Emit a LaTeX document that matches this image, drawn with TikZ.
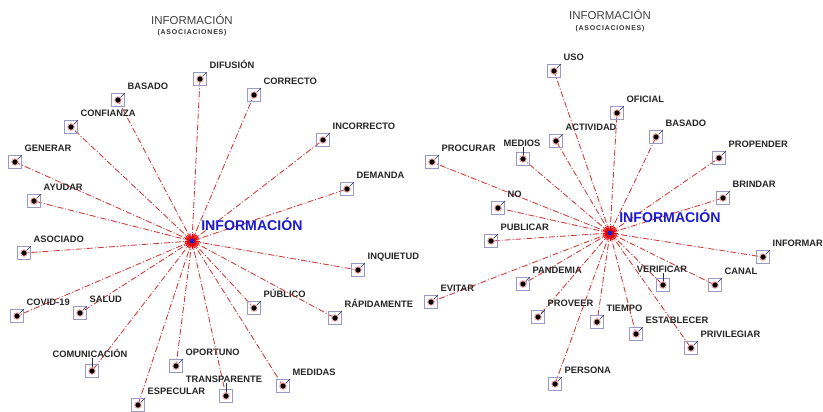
\documentclass[tikz,border=0pt]{standalone}
\usepackage{fontspec}
\setmainfont{Liberation Sans}
\newfontfamily\spacedfont[LetterSpace=12]{Liberation Sans}

\definecolor{linkred}{HTML}{D03A3A}
\definecolor{boxblue}{HTML}{9A9AC8}
\definecolor{hubblue}{HTML}{1B1BD0}
\definecolor{halo}{HTML}{F2A8A8}
\definecolor{tickblue}{HTML}{25305A}

\tikzset{
  word/.style={font=\bfseries\fontsize{7}{8}\selectfont, text=black!85, inner sep=0pt, anchor=base west},
  wordbox/.style={draw=boxblue, line width=0.6pt, minimum size=9.75pt, inner sep=0pt},
  link/.style={linkred, line width=0.65pt, dash pattern=on 4.5pt off 1.5pt on 0.8pt off 1.5pt},
  tick/.style={tickblue, line width=0.4pt},
  burst/.style={red!90!black, line width=0.55pt},
  hub/.style={circle, fill=hubblue, inner sep=0pt, minimum size=3.6pt},
  hubword/.style={font=\bfseries\fontsize{10.6}{12}\selectfont, text=hubblue, inner sep=0pt, anchor=west},
  title/.style={font=\fontsize{8.6}{10}\selectfont, text=black!75, inner sep=0pt},
  subtitle/.style={font=\spacedfont\bfseries\fontsize{5.2}{6}\selectfont, text=black!80, inner sep=0pt}
}

\begin{document}
\begin{tikzpicture}[x=0.75pt,y=-0.75pt]
\useasboundingbox (0,0) rectangle (823,411);

% titles
\node[title] (t1) at (192,20) {INFORMACIÓN};
\node[subtitle] (s1) at (192,33) {(ASOCIACIONES)};
\node[title] (t2) at (610,15) {INFORMACIÓN};
\node[subtitle] (s2) at (610,29) {(ASOCIACIONES)};

% hubs
\node[hub] (h1) at (192,241) {};
\node[hub] (h2) at (610,233) {};

% left star
\foreach \x/\y/\t [count=\i] in {200/79/DIFUSIÓN, 254/95/CORRECTO, 118/100/BASADO,
    71/127/CONFIANZA, 323/140/INCORRECTO, 15/162/GENERAR, 347/189/DEMANDA,
    34/201/AYUDAR, 24/253/ASOCIADO, 358/270/INQUIETUD, 17/316/COVID-19,
    80/313/SALUD, 254/308/PÚBLICO, 335/318/RÁPIDAMENTE, 176/366/OPORTUNO,
    283/386/MEDIDAS, 138/405/ESPECULAR} {
  \draw[link] (h1.center) -- (\x,\y);
  \node[wordbox] (a\i) at (\x,\y) {};
  \node[word] (la\i) at ([shift={(2.5,-4)}]a\i.north east) {\t};
  \draw[tick] (a\i.center) -- (a\i.north east);
  \fill[halo] (a\i.center) circle (3.8);
  \fill (a\i.center) circle (2.6);
}
\foreach \x/\y/\t/\d [count=\i] in {92/371/COMUNICACIÓN/-2, 226/396/TRANSPARENTE/-2} {
  \draw[link] (h1.center) -- (\x,\y);
  \node[wordbox] (av\i) at (\x,\y) {};
  \node[word, anchor=base] (lav\i) at ([shift={(\d,-7)}]av\i.north) {\t};
  \draw[tick] (av\i.center) -- ([yshift=-0.75pt]lav\i.south -| av\i.center);
  \fill[halo] (av\i.center) circle (3.8);
  \fill (av\i.center) circle (2.6);
}

% right star
\foreach \x/\y/\t [count=\i] in {554/71/USO, 617/113/OFICIAL, 556/141/ACTIVIDAD,
    656/137/BASADO, 432/162/PROCURAR, 719/158/PROPENDER, 723/198/BRINDAR,
    498/208/NO, 491/241/PUBLICAR, 763/257/INFORMAR, 523/284/PANDEMIA,
    715/285/CANAL, 431/302/EVITAR, 538/317/PROVEER, 597/322/TIEMPO,
    636/334/ESTABLECER, 691/348/PRIVILEGIAR, 555/384/PERSONA} {
  \draw[link] (h2.center) -- (\x,\y);
  \node[wordbox] (b\i) at (\x,\y) {};
  \node[word] (lb\i) at ([shift={(2.5,-4)}]b\i.north east) {\t};
  \draw[tick] (b\i.center) -- (b\i.north east);
  \fill[halo] (b\i.center) circle (3.8);
  \fill (b\i.center) circle (2.6);
}
\foreach \x/\y/\t/\d [count=\i] in {523/159/MEDIOS/-1, 663/285/VERIFICAR/-1} {
  \draw[link] (h2.center) -- (\x,\y);
  \node[wordbox] (bv\i) at (\x,\y) {};
  \node[word, anchor=base] (lbv\i) at ([shift={(\d,-6)}]bv\i.north) {\t};
  \draw[tick] (bv\i.center) -- ([yshift=-0.75pt]lbv\i.south -| bv\i.center);
  \fill[halo] (bv\i.center) circle (3.8);
  \fill (bv\i.center) circle (2.6);
}

% bursts round the hubs
\foreach \a in {0,10,...,350} {
  \draw[burst] (h1.center) -- ++(\a:7.5);
  \draw[burst] (h2.center) -- ++(\a:7.5);
}
\node[hub] at (h1) {};
\node[hub] at (h2) {};

\node[hubword] (w1) at (201,224) {INFORMACIÓN};
\node[hubword] (w2) at (619,216) {INFORMACIÓN};
\end{tikzpicture}
\end{document}
